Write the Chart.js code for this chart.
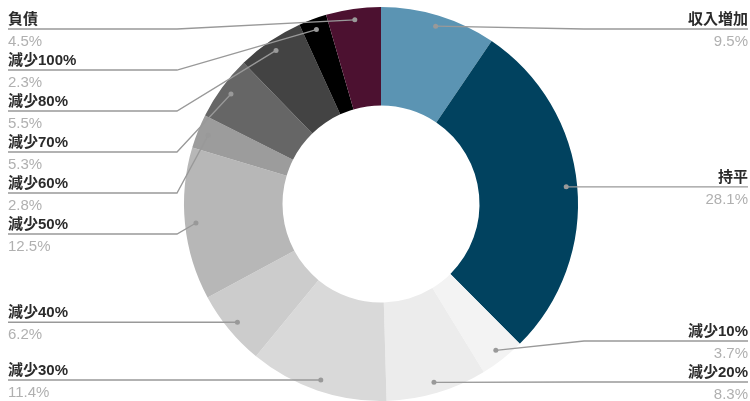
<!DOCTYPE html>
<html>
<head>
<meta charset="utf-8">
<script src="https://cdn.jsdelivr.net/npm/chart.js@4"></script>
<style>
  html, body { margin: 0; padding: 0; background: #fff; }
</style>
</head>
<body>
<canvas id="donut" width="750" height="401"></canvas>
<script>
// data
const labels = ["収入増加", "持平", "減少10%", "減少20%", "減少30%", "減少40%", "減少50%", "減少60%", "減少70%", "減少80%", "減少100%", "負債"];
const values = [9.5, 28.1, 3.7, 8.3, 11.4, 6.2, 12.5, 2.8, 5.3, 5.5, 2.3, 4.5];
const colors = ["#5b94b3", "#01425f", "#f3f3f3", "#ececec", "#d9d9d9", "#cccccc", "#b7b7b7", "#9c9c9c", "#666666", "#434343", "#000000", "#4c1130"];

const FONT = '"Liberation Sans", Arial, "Noto Sans CJK JP", sans-serif';

// labels on both sides with leader lines
const sideLabels = {
  id: "sideLabels",
  afterDraw(chart) {
    const ctx = chart.ctx;
    const W = chart.width;
    const arcs = chart.getDatasetMeta(0).data;
    const items = arcs.map((arc, i) => {
      const p = arc.getProps(["x", "y", "startAngle", "endAngle", "outerRadius"], true);
      const mid = (p.startAngle + p.endAngle) / 2;
      const r = p.outerRadius - 11;
      return {
        i,
        cx: p.x,
        R: p.outerRadius,
        dx: p.x + Math.cos(mid) * r,
        dy: p.y + Math.sin(mid) * r,
        right: Math.cos(mid) >= 0,
      };
    });

    const gap = 41, minY = 29, maxY = 382;
    [true, false].forEach((side) => {
      const list = items.filter((it) => it.right === side).sort((a, b) => a.dy - b.dy);
      let prev = -Infinity;
      list.forEach((it) => {
        it.ly = Math.max(it.dy, prev + gap, minY);
        prev = it.ly;
      });
      let next = Infinity;
      for (let k = list.length - 1; k >= 0; k--) {
        list[k].ly = Math.min(list[k].ly, next - gap, maxY);
        next = list[k].ly;
      }
    });

    ctx.save();
    items.forEach((it) => {
      const edgeX = it.right ? W - 2 : 8;
      const elbowX = it.right ? it.cx + it.R + 6 : it.cx - it.R - 7;

      ctx.strokeStyle = "#999999";
      ctx.lineWidth = 1.3;
      ctx.beginPath();
      ctx.moveTo(edgeX, it.ly);
      ctx.lineTo(elbowX, it.ly);
      ctx.lineTo(it.dx, it.dy);
      ctx.stroke();

      ctx.fillStyle = "#999999";
      ctx.beginPath();
      ctx.arc(it.dx, it.dy, 2.5, 0, Math.PI * 2);
      ctx.fill();

      ctx.textAlign = it.right ? "right" : "left";
      ctx.textBaseline = "alphabetic";
      ctx.fillStyle = "#2b2b2b";
      ctx.font = "bold 15px " + FONT;
      ctx.fillText(labels[it.i], edgeX, it.ly - 5);
      ctx.fillStyle = "#b0b0b0";
      ctx.font = "15px " + FONT;
      ctx.fillText(values[it.i].toFixed(1) + "%", edgeX, it.ly + 17);
    });
    ctx.restore();
  },
};

new Chart(document.getElementById("donut"), {
  type: "doughnut",
  data: {
    labels,
    datasets: [
      {
        data: values,
        backgroundColor: colors,
        borderWidth: 0,
      },
    ],
  },
  options: {
    responsive: false,
    animation: false,
    cutout: "50%",
    layout: { padding: { left: 184, right: 172, top: 7, bottom: 0 } },
    plugins: {
      legend: { display: false },
      tooltip: { enabled: false },
    },
  },
  plugins: [sideLabels],
});
</script>
</body>
</html>
